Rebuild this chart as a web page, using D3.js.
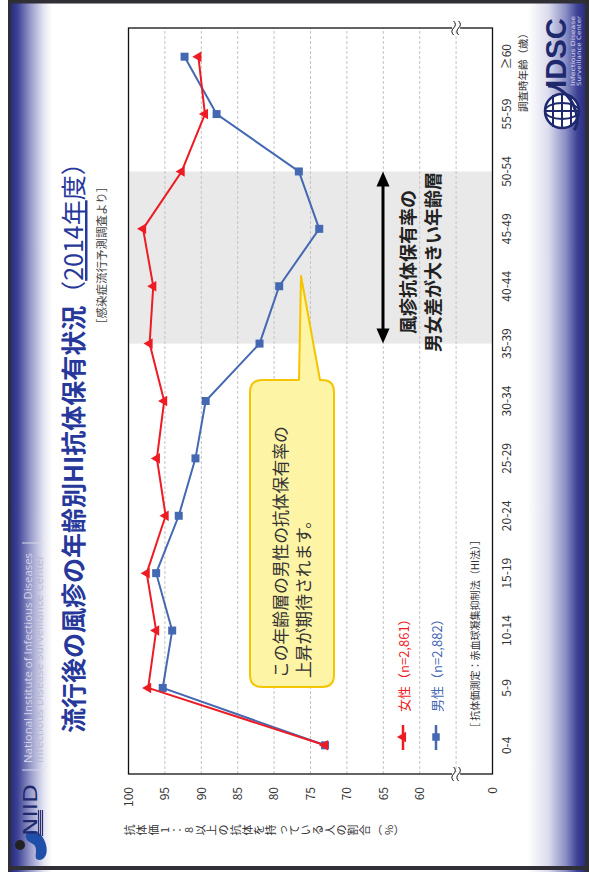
<!DOCTYPE html>
<html><head><meta charset="utf-8">
<script src="https://cdn.jsdelivr.net/npm/d3@7"></script>
<style>html,body{margin:0;padding:0;background:#fff;overflow:hidden} svg{display:block}</style>
</head><body>
<svg id="c" width="589" height="872"></svg>
<script>
// ---- data ----
const categories = ["0-4","5-9","10-14","15-19","20-24","25-29","30-34","35-39","40-44","45-49","50-54","55-59","≥60"];
const femaleValues = [73.0,97.3,96.2,97.5,94.9,96.1,95.1,97.1,96.6,98.0,92.7,89.5,90.4];
const maleValues   = [73.0,95.3,94.0,96.2,93.1,90.8,89.4,82.0,79.3,73.8,76.6,87.9,92.3];
const yTickValues = [100,95,90,85,80,75,70,65,60,50];
const yTickLabels = ["100","95","90","85","80","75","70","65","60","0"];
const gridValues = [95,90,85,80,75,70,65,60,55];
const highlightCats = ["35-39","50-54"];
const seriesNames = ["女性（n=2,861）","男性（n=2,882）"];
const titleMain = "流行後の風疹の年齢別HI抗体保有状況";
const titleYear = "2014年";
const subTitle = "［感染症流行予測調査より］";
const yAxisTitle = ["抗","体","価","1","：","8","以","上","の","抗","体","を","持","っ","て","い","る","人","の","割","合","︵","%","︶"];
const xAxisTitle = "調査時年齢（歳）";
const methodNote = "［ 抗体価測定：赤血球凝集抑制法（HI法）］";
const calloutLines = ["この年齢層の男性の抗体保有率の","上昇が期待されます。"];
const arrowLines = ["風疹抗体保有率の","男女差が大きい年齢層"];

const JP = "'Noto Sans CJK JP','Noto Sans',sans-serif";
const RED = "#ed1c24", BLUE = "#4468b2", NAVY = "#27389b";

const svg = d3.select("#c");
svg.append("rect").attr("width",589).attr("height",872).attr("fill","#fff");
const defs = svg.append("defs");
function grad(id, y1, y2, stops){
  const lg = defs.append("linearGradient").attr("id",id).attr("gradientUnits","userSpaceOnUse")
    .attr("x1",0).attr("x2",0).attr("y1",y1).attr("y2",y2);
  stops.forEach(s=>lg.append("stop").attr("offset",s[0]).attr("stop-color",s[1]));
}
grad("gh",10,52,[[0,"#262a7c"],[0.18,"#3d4296"],[0.5,"#9a9dcb"],[0.8,"#e4e4f2"],[1,"#ffffff"]]);
grad("gf",528,586,[[0,"#ffffff"],[0.35,"#dcdcee"],[0.65,"#8a8ec4"],[0.85,"#3d4296"],[1,"#262a7c"]]);

// landscape frame (872 x 589) rotated -90deg
const g = svg.append("g").attr("transform","translate(0,872) rotate(-90)");

g.append("rect").attr("x",0).attr("y",10).attr("width",872).attr("height",42).attr("fill","url(#gh)");
g.append("rect").attr("x",0).attr("y",528).attr("width",872).attr("height",58).attr("fill","url(#gf)");
// frame
g.append("rect").attr("x",0).attr("y",8).attr("width",872).attr("height",3).attr("fill","#2f2f35");
g.append("rect").attr("x",0).attr("y",585).attr("width",872).attr("height",4).attr("fill","#2f2f35");
g.append("rect").attr("x",868.5).attr("y",8).attr("width",4).attr("height",581).attr("fill","#2f2f35");
g.append("rect").attr("x",2).attr("y",8).attr("width",4).attr("height",581).attr("fill","#2f2f35");

// header texts
g.append("text").attr("x",109).attr("y",31.5).attr("font-family","'Open Sans',sans-serif").attr("font-size",10)
  .attr("fill","#d4d4ea").attr("textLength",210).attr("lengthAdjust","spacingAndGlyphs").text("National Institute of Infectious Diseases");
g.append("text").attr("x",109).attr("y",43).attr("font-family","'Open Sans',sans-serif").attr("font-size",10)
  .attr("fill","#b9b9d6").attr("textLength",208).attr("lengthAdjust","spacingAndGlyphs").text("Infectious Disease Surveillance Center");
[102,329].forEach(X=>g.append("line").attr("x1",X).attr("x2",X).attr("y1",22).attr("y2",44).attr("stroke","#d8d8ea").attr("stroke-width",1));

// NIID logo
g.append("path").attr("d","M12,40 C14,50 30,48 38,40 C44,33 40,24 34,26 C28,28 30,36 22,36 C16,36 12,34 12,40 Z").attr("fill","#1f4fa8");
g.append("path").attr("d","M10,14 C20,10 42,12 42,26 C42,32 36,30 34,26").attr("fill","none").attr("stroke","#1f4fa8").attr("stroke-width",0);
g.append("circle").attr("cx",27).attr("cy",20).attr("r",5).attr("fill","#222");
g.append("text").attr("x",36).attr("y",37).attr("font-family","'DejaVu Sans',sans-serif").attr("font-size",19)
  .attr("fill","#1f2a6e").attr("textLength",52).attr("lengthAdjust","spacingAndGlyphs").text("NIID");
[38.5,40.5,42.5].forEach(Y=>g.append("line").attr("x1",36).attr("x2",62).attr("y1",Y).attr("y2",Y).attr("stroke","#2a2f70").attr("stroke-width",1.2));

// IDSC logo
const gl = g.append("g");
gl.append("circle").attr("cx",761).attr("cy",562).attr("r",17).attr("fill","#fff").attr("stroke","#1f2a6e").attr("stroke-width",2.5);
gl.append("ellipse").attr("cx",761).attr("cy",562).attr("rx",8).attr("ry",17).attr("fill","none").attr("stroke","#1f2a6e").attr("stroke-width",2);
gl.append("line").attr("x1",761).attr("x2",761).attr("y1",545).attr("y2",579).attr("stroke","#1f2a6e").attr("stroke-width",2);
[553,562,571].forEach(Y=>gl.append("line").attr("x1",745).attr("x2",777).attr("y1",Y).attr("y2",Y).attr("stroke","#1f2a6e").attr("stroke-width",2));
gl.append("path").attr("d","M742,574 C752,584 786,570 786,548").attr("fill","none").attr("stroke","#1f2a6e").attr("stroke-width",3);
g.append("text").attr("x",784).attr("y",566).attr("font-family","'Liberation Sans',Arial,sans-serif").attr("font-weight",700)
  .attr("font-size",29).attr("fill","#1f2a6e").attr("textLength",70).attr("lengthAdjust","spacingAndGlyphs").text("IDSC");
g.append("text").attr("x",786).attr("y",574.5).attr("font-family","'DejaVu Sans',sans-serif").attr("font-size",6)
  .attr("fill","#d8d8ee").attr("textLength",70).attr("lengthAdjust","spacingAndGlyphs").text("Infectious Disease");
g.append("text").attr("x",786).attr("y",581).attr("font-family","'DejaVu Sans',sans-serif").attr("font-size",6)
  .attr("fill","#d8d8ee").attr("textLength",70).attr("lengthAdjust","spacingAndGlyphs").text("Surveillance Center");

// Title
const t = g.append("text").attr("x",139).attr("y",83).attr("font-family",JP).attr("font-size",25).attr("fill",NAVY);
t.append("tspan").attr("font-weight",700).text(titleMain);
t.append("tspan").attr("font-weight",400).text("（");
t.append("tspan").attr("font-weight",400).attr("text-decoration","underline").text(titleYear);
t.append("tspan").attr("font-weight",400).text("度）");
g.append("text").attr("x",542).attr("y",106).attr("font-family",JP).attr("font-size",11.5).attr("fill","#444").text(subTitle);

// ---- chart ----
const plot = {x0:98, x1:844, y0:128.5, y1:492.5};
const x = d3.scaleBand().domain(categories).range([plot.x0, plot.x1]).padding(0);
const cx = c => x(c) + x.bandwidth()/2;
const y = d3.scaleLinear().domain([50,100]).range([plot.y1, plot.y0]);

// highlight band
g.append("rect").attr("x",cx(highlightCats[0])).attr("y",plot.y0)
  .attr("width",cx(highlightCats[1])-cx(highlightCats[0])).attr("height",plot.y1-plot.y0).attr("fill","#e9e9e9");

// grid
g.append("g").selectAll("line").data(gridValues).join("line")
  .attr("x1",plot.x0).attr("x2",plot.x1).attr("y1",d=>y(d)).attr("y2",d=>y(d))
  .attr("stroke","#c4c4c4").attr("stroke-width",1).attr("stroke-dasharray","3,2");

// plot frame
g.append("rect").attr("x",plot.x0).attr("y",plot.y0).attr("width",plot.x1-plot.x0).attr("height",plot.y1-plot.y0)
  .attr("fill","none").attr("stroke","#111").attr("stroke-width",1.3);

// axis break symbols
[plot.x0, plot.x1].forEach(X=>{
  const Y = y(55);
  g.append("rect").attr("x",X-2).attr("y",Y-4).attr("width",4).attr("height",8).attr("fill","#fff");
  [-2.5,2.5].forEach(o=>g.append("path")
    .attr("d",`M${X-7},${Y+o} q3.5,-3.5 7,0 t7,0`).attr("fill","none").attr("stroke","#111").attr("stroke-width",1));
});

// axes
const yAxis = g.append("g").attr("transform",`translate(${plot.x0},0)`)
  .call(d3.axisLeft(y).tickValues(yTickValues).tickSize(0).tickPadding(13)
  .tickFormat(d=>yTickLabels[yTickValues.indexOf(d)]));
yAxis.select(".domain").remove();
yAxis.selectAll("text").attr("font-family",JP).attr("font-size",12).attr("fill","#333");

const xAxis = g.append("g").attr("transform",`translate(0,${plot.y1})`)
  .call(d3.axisBottom(x).tickSize(0).tickPadding(10));
xAxis.select(".domain").remove();
xAxis.selectAll("text").attr("font-family",JP).attr("font-size",12).attr("fill","#333");

// axis titles
g.append("text").attr("x",plot.x1).attr("y",527).attr("text-anchor","end").attr("font-family",JP)
  .attr("font-size",10.5).attr("fill","#333").text(xAxisTitle);
g.append("g").selectAll("text").data(yAxisTitle).join("text")
  .attr("x",42).attr("y",(d,i)=>129+i*11.75).attr("text-anchor","middle").attr("dominant-baseline","central")
  .attr("font-family",JP).attr("font-size",11).attr("fill","#333").text(d=>d);
g.append("text").attr("x",139).attr("y",474).attr("dominant-baseline","central").attr("font-family",JP)
  .attr("font-size",10.5).attr("fill","#333").attr("textLength",198).attr("lengthAdjust","spacingAndGlyphs").text(methodNote);

// callout
const bx0=185,bx1=492,by0=250,by1=334,r=12;
g.append("path").attr("d",
  `M${bx0+r},${by0} L${bx1-r},${by0} Q${bx1},${by0} ${bx1},${by0+r} L${bx1},299 L596,301 L${bx1},320 L${bx1},${by1-r} Q${bx1},${by1} ${bx1-r},${by1} L${bx0+r},${by1} Q${bx0},${by1} ${bx0},${by1-r} L${bx0},${by0+r} Q${bx0},${by0} ${bx0+r},${by0} Z`)
  .attr("fill","#fdf4a6").attr("stroke","#f5c400").attr("stroke-width",2).attr("stroke-linejoin","round");
calloutLines.forEach((s,i)=>g.append("text").attr("x",194).attr("y",280+i*23).attr("dominant-baseline","central")
  .attr("font-family",JP).attr("font-size",16.8).attr("fill","#333").text(s));

// double arrow
const ax0 = cx(highlightCats[0]), ax1 = cx(highlightCats[1]), ay = 383;
g.append("line").attr("x1",ax0+10).attr("x2",ax1-10).attr("y1",ay).attr("y2",ay).attr("stroke","#000").attr("stroke-width",3);
g.append("path").attr("d",`M${ax1},${ay} L${ax1-15},${ay-6.5} L${ax1-15},${ay+6.5} Z`).attr("fill","#000");
g.append("path").attr("d",`M${ax0},${ay} L${ax0+15},${ay-6.5} L${ax0+15},${ay+6.5} Z`).attr("fill","#000");
arrowLines.forEach((s,i)=>g.append("text").attr("x",610).attr("y",407+i*25).attr("text-anchor","middle")
  .attr("dominant-baseline","central").attr("font-family",JP).attr("font-weight",700).attr("font-size",18)
  .attr("fill","#222").text(s));

// series
const series = [
  {name:seriesNames[1], values:maleValues, color:BLUE, sym:d3.symbolSquare, size:64},
  {name:seriesNames[0], values:femaleValues, color:RED, sym:d3.symbolTriangle, size:48}
];
const line = d3.line().x((d,i)=>cx(categories[i])).y(d=>y(d));
series.forEach(s=>{
  g.append("path").attr("d",line(s.values)).attr("fill","none").attr("stroke",s.color).attr("stroke-width",2);
  g.append("g").selectAll("path").data(s.values).join("path")
    .attr("transform",(d,i)=>`translate(${cx(categories[i])},${y(d)})`)
    .attr("d",d3.symbol(s.sym,s.size)()).attr("fill",s.color);
});

// legend
const legend = [
  {name:seriesNames[0], color:RED, sym:d3.symbolTriangle, size:48, Y:403},
  {name:seriesNames[1], color:BLUE, sym:d3.symbolSquare, size:56, Y:436}
];
legend.forEach(l=>{
  g.append("line").attr("x1",122).attr("x2",147).attr("y1",l.Y).attr("y2",l.Y).attr("stroke",l.color).attr("stroke-width",2.5);
  g.append("path").attr("transform",`translate(135,${l.Y})`).attr("d",d3.symbol(l.sym,l.size)()).attr("fill",l.color);
  g.append("text").attr("x",160).attr("y",l.Y).attr("dominant-baseline","central").attr("font-family",JP)
    .attr("font-size",13).attr("fill",l.color).text(l.name);
});
</script>
</body></html>
